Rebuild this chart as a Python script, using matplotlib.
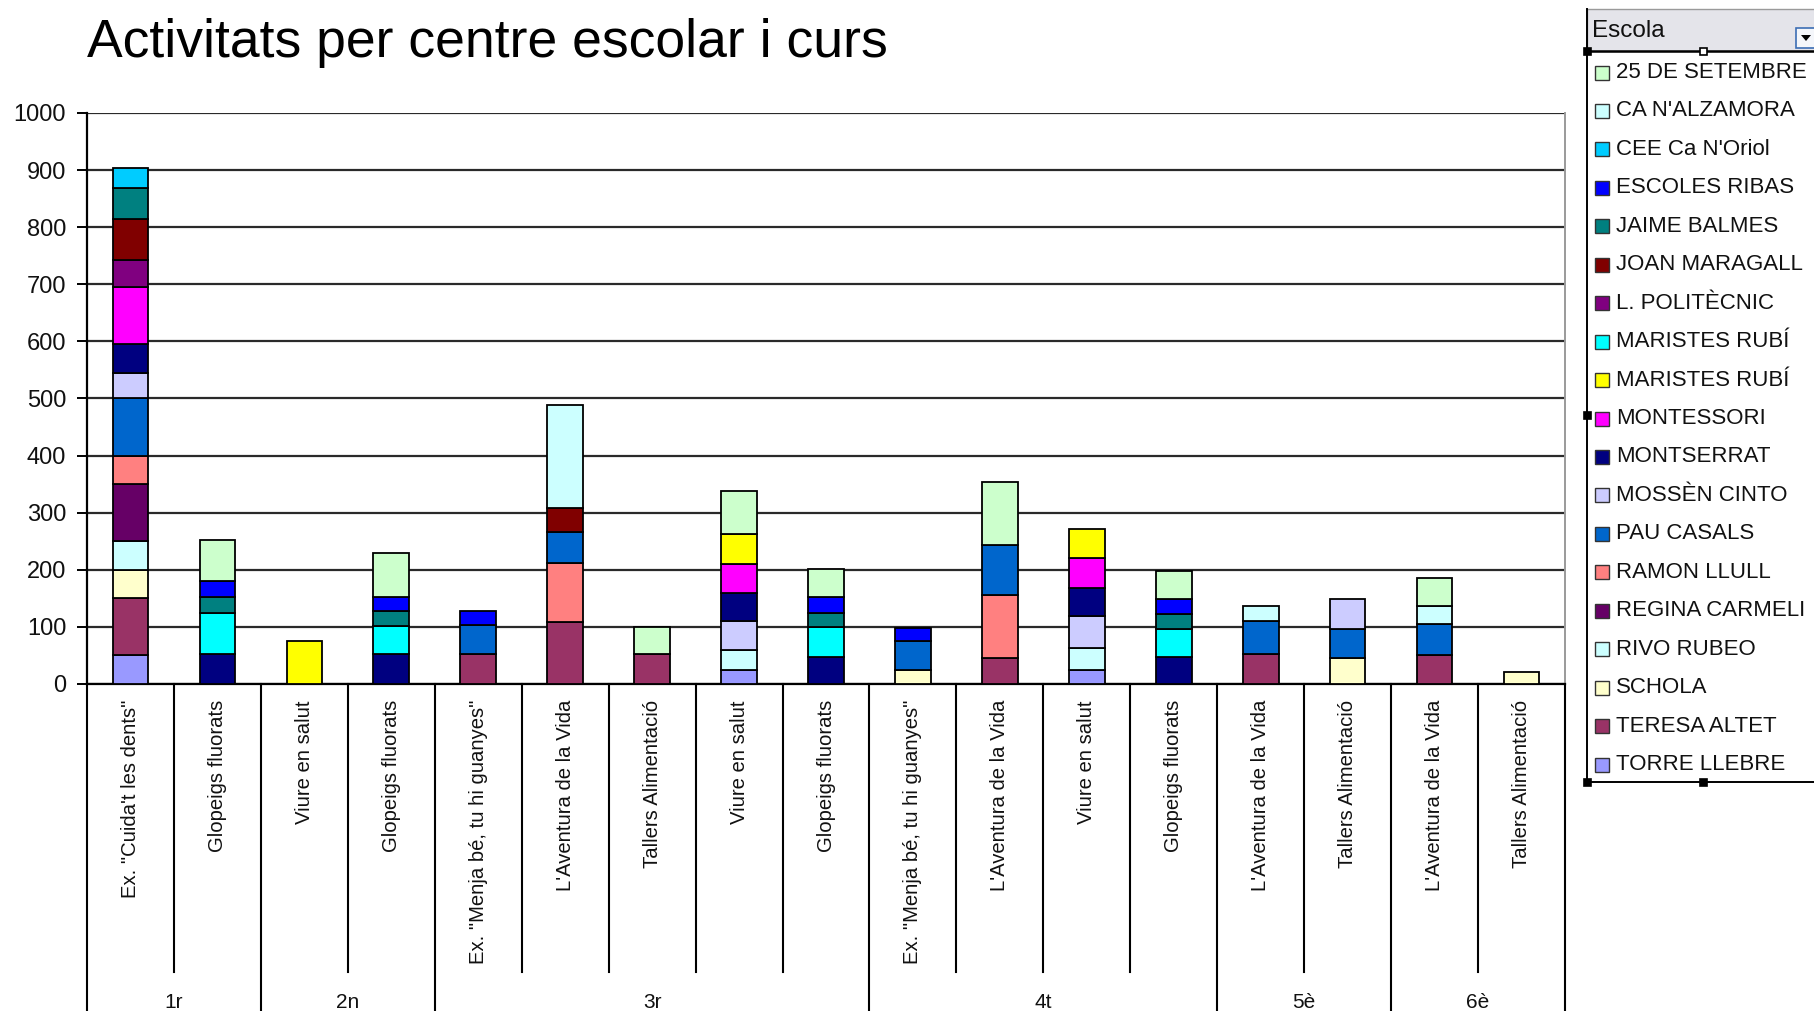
import numpy as np
import matplotlib
matplotlib.use("Agg")
import matplotlib.pyplot as plt
from matplotlib.patches import Rectangle, Polygon

plt.rcParams['font.family'] = ['Liberation Sans', 'DejaVu Sans']

# ---------------- data ----------------
activities = ['Ex. "Cuida\'t les dents"', 'Glopeigs fluorats',
              'Viure en salut', 'Glopeigs fluorats',
              'Ex. "Menja bé, tu hi guanyes"', "L'Aventura de la Vida", 'Tallers Alimentació',
              'Viure en salut', 'Glopeigs fluorats',
              'Ex. "Menja bé, tu hi guanyes"', "L'Aventura de la Vida", 'Viure en salut',
              'Glopeigs fluorats',
              "L'Aventura de la Vida", 'Tallers Alimentació',
              "L'Aventura de la Vida", 'Tallers Alimentació']
courses = ['1r', '2n', '3r', '4t', '5è', '6è']
course_sizes = [2, 2, 5, 4, 2, 2]

# one list per school (values per activity, in the order above)
torre_llebre    = [50, 0, 0, 0, 0, 0, 0, 25, 0, 0, 0, 25, 0, 0, 0, 0, 0]
teresa_altet    = [100, 0, 0, 0, 53, 109, 53, 0, 0, 0, 46, 0, 0, 53, 0, 50, 0]
schola          = [50, 0, 0, 0, 0, 0, 0, 0, 0, 24, 0, 0, 0, 0, 45, 0, 21]
rivo_rubeo      = [50, 0, 0, 0, 0, 0, 0, 35, 0, 0, 0, 38, 0, 0, 0, 0, 0]
regina_carmeli  = [100, 0, 0, 0, 0, 0, 0, 0, 0, 0, 0, 0, 0, 0, 0, 0, 0]
ramon_llull     = [50, 0, 0, 0, 0, 103, 0, 0, 0, 0, 110, 0, 0, 0, 0, 0, 0]
pau_casals      = [100, 0, 0, 0, 51, 55, 0, 0, 0, 51, 87, 0, 0, 58, 52, 55, 0]
mossen_cinto    = [45, 0, 0, 0, 0, 0, 0, 50, 0, 0, 0, 56, 0, 0, 51, 0, 0]
montserrat      = [50, 52, 0, 52, 0, 0, 0, 50, 48, 0, 0, 50, 47, 0, 0, 0, 0]
montessori      = [100, 0, 0, 0, 0, 0, 0, 51, 0, 0, 0, 51, 0, 0, 0, 0, 0]
maristes_rubi_2 = [0, 0, 75, 0, 0, 0, 0, 52, 0, 0, 0, 51, 0, 0, 0, 0, 0]
maristes_rubi_1 = [0, 72, 0, 49, 0, 0, 0, 0, 51, 0, 0, 0, 50, 0, 0, 0, 0]
l_politecnic    = [47, 0, 0, 0, 0, 0, 0, 0, 0, 0, 0, 0, 0, 0, 0, 0, 0]
joan_maragall   = [73, 0, 0, 0, 0, 41, 0, 0, 0, 0, 0, 0, 0, 0, 0, 0, 0]
jaime_balmes    = [54, 29, 0, 26, 0, 0, 0, 0, 25, 0, 0, 0, 26, 0, 0, 0, 0]
escoles_ribas   = [0, 27, 0, 26, 24, 0, 0, 0, 28, 23, 0, 0, 26, 0, 0, 0, 0]
cee_ca_noriol   = [35, 0, 0, 0, 0, 0, 0, 0, 0, 0, 0, 0, 0, 0, 0, 0, 0]
ca_nalzamora    = [0, 0, 0, 0, 0, 181, 0, 0, 0, 0, 0, 0, 0, 26, 0, 31, 0]
s25_setembre    = [0, 72, 0, 77, 0, 0, 47, 75, 50, 0, 111, 0, 49, 0, 0, 50, 0]

# legend order (top to bottom); stacked in reverse (last = bottom)
school_names = ['25 DE SETEMBRE', "CA N'ALZAMORA", "CEE Ca N'Oriol", 'ESCOLES RIBAS',
                'JAIME BALMES', 'JOAN MARAGALL', 'L. POLITÈCNIC', 'MARISTES RUBÍ',
                'MARISTES RUBÍ', 'MONTESSORI', 'MONTSERRAT', 'MOSSÈN CINTO',
                'PAU CASALS', 'RAMON LLULL', 'REGINA CARMELI', 'RIVO RUBEO',
                'SCHOLA', 'TERESA ALTET', 'TORRE LLEBRE']
school_colors = ['#CCFFCC', '#CCFFFF', '#00CCFF', '#0000FF',
                 '#008080', '#800000', '#800080', '#00FFFF',
                 '#FFFF00', '#FF00FF', '#000080', '#CCCCFF',
                 '#0066CC', '#FF8080', '#660066', '#CCFFFF',
                 '#FFFFCC', '#993366', '#9999FF']
school_values = [s25_setembre, ca_nalzamora, cee_ca_noriol, escoles_ribas,
                 jaime_balmes, joan_maragall, l_politecnic, maristes_rubi_1,
                 maristes_rubi_2, montessori, montserrat, mossen_cinto,
                 pau_casals, ramon_llull, regina_carmeli, rivo_rubeo,
                 schola, teresa_altet, torre_llebre]

# ---------------- figure ----------------
W, H = 1814, 1011
fig = plt.figure(figsize=(W / 100, H / 100), dpi=100)
fig.patch.set_facecolor('white')

x0, x1, ytop, ybase = 87, 1565, 113, 684
ax = fig.add_axes([x0 / W, (H - ybase) / H, (x1 - x0) / W, (ybase - ytop) / H])
n = len(activities)
ax.set_xlim(-0.5, n - 0.5)
ax.set_ylim(0, 1000)

xs = np.arange(n)
bottom = np.zeros(n)
for name, col, vals in zip(school_names[::-1], school_colors[::-1], school_values[::-1]):
    v = np.array(vals, dtype=float)
    m = v > 0
    ax.bar(xs[m], v[m], bottom=bottom[m], width=0.41, color=col,
           edgecolor='black', linewidth=1.3, zorder=3)
    bottom += v

ax.set_yticks(np.arange(0, 1001, 100))
ax.yaxis.grid(True, color='#2a2a2a', linewidth=1.6, zorder=0)
ax.set_axisbelow(True)
ax.set_xticks([])
ax.tick_params(axis='y', length=7, width=1.4, pad=8, labelsize=17, colors='black')
for lab in ax.get_yticklabels():
    lab.set_color('#111111')
ax.spines['top'].set_visible(False)
ax.spines['right'].set_color('#9a9a9a')
ax.spines['right'].set_linewidth(1.4)
ax.spines['left'].set_linewidth(1.6)
ax.spines['bottom'].set_linewidth(1.6)

# multi-level category axis
tr = ax.get_xaxis_transform()
ppa = (ybase - ytop)  # pixels per axes unit
group_bounds = np.concatenate([[0], np.cumsum(course_sizes)])
for b in range(n + 1):
    xb = b - 0.5
    yend = -0.62 if b in group_bounds else -(972 - ybase) / ppa
    ax.plot([xb, xb], [0, yend], transform=tr, color='black', lw=1.5,
            clip_on=False, zorder=4)

for i, lab in enumerate(activities):
    ax.text(i, -(700 - ybase) / ppa, lab, transform=tr, rotation=90,
            ha='center', va='top', fontsize=14.6, color='#111111')

for k, c in enumerate(courses):
    cx = (group_bounds[k] + group_bounds[k + 1] - 1) / 2
    ax.text(cx, -(1003 - ybase) / ppa, c, transform=tr, ha='center', va='center',
            fontsize=15, color='#111111')

# title
fig.text(87 / W, 1 - 43 / H, 'Activitats per centre escolar i curs', fontsize=38.5,
         ha='left', va='center', color='black')

# ---------------- legend (pixel overlay) ----------------
ov = fig.add_axes([0, 0, 1, 1], facecolor='none')
ov.set_xlim(0, W)
ov.set_ylim(H, 0)
ov.axis('off')

lx, ly0, ly1 = 1587, 9, 782
ov.add_patch(Rectangle((lx, ly0), W - lx + 5, ly1 - ly0, facecolor='white',
                       edgecolor='none', zorder=1))
ov.add_patch(Rectangle((lx, ly0), W - lx + 5, 51 - ly0, facecolor='#E4E4EA',
                       edgecolor='#9a9a9a', linewidth=1.0, zorder=2))
ov.plot([lx, lx], [ly0, ly1], color='black', lw=1.4, zorder=3)
ov.plot([lx, W], [51, 51], color='black', lw=1.8, zorder=3)
ov.plot([lx, W], [ly1, ly1], color='black', lw=1.4, zorder=3)
ov.text(1592, 31, 'Escola', fontsize=17.5, ha='left', va='center', color='#111111', zorder=4)
# dropdown button
ov.add_patch(Rectangle((1796, 28), 22, 20, facecolor='#F4F6FA', edgecolor='#3C6EB4',
                       linewidth=1.2, zorder=4))
ov.add_patch(Polygon([[1801, 35], [1811, 35], [1806, 41]], closed=True, facecolor='black',
                     edgecolor='none', zorder=5))
# selection handles
for hx, hy, fc in [(lx, 51, 'black'), (1703, 51, 'white'), (lx, 415, 'black'),
                   (lx, ly1, 'black'), (1703, ly1, 'black')]:
    ov.add_patch(Rectangle((hx - 3.5, hy - 3.5), 7, 7, facecolor=fc, edgecolor='black',
                           linewidth=1.2, zorder=6))

for i, (name, col) in enumerate(zip(school_names, school_colors)):
    yy = 72.5 + 38.45 * i
    ov.add_patch(Rectangle((1595, yy - 7), 14, 14, facecolor=col, edgecolor='#333333',
                           linewidth=1.0, zorder=4))
    ov.text(1616, yy, name, fontsize=16, ha='left', va='center', color='#111111', zorder=4)

fig.savefig('out.png', dpi=100, facecolor='white')
